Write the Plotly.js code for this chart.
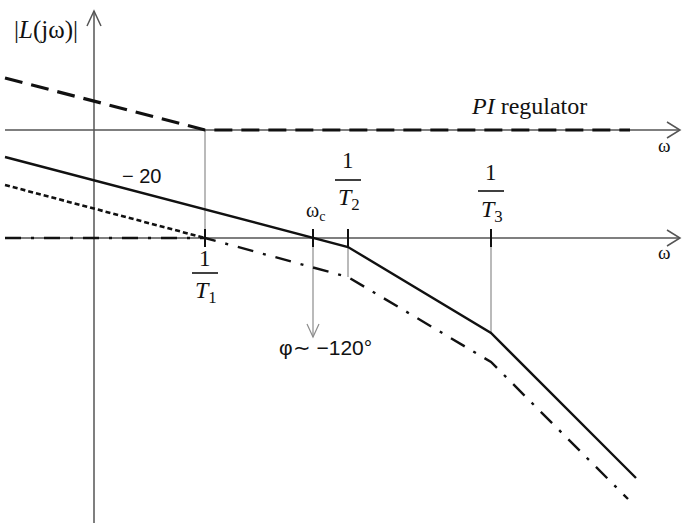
<!DOCTYPE html>
<html>
<head>
<meta charset="utf-8">
<script src="https://cdn.plot.ly/plotly-3.0.1.min.js"></script>
<style>html,body{margin:0;padding:0;background:#fff;}#chart{width:682px;height:523px;}</style>
</head>
<body>
<div id="chart"></div>
<script>
// Schematic Bode asymptotes (x: log-frequency units, y: magnitude units, drawn in figure coordinates)
const piX = [5, 205, 630];
const piY = [78, 130, 130];
const plantX = [5, 348, 491, 636];
const plantY = [157, 247, 333, 478];
const dottedX = [5, 205];
const dottedY = [185, 238];
const dashDotX = [5, 205, 348, 491, 628];
const dashDotY = [238, 238, 277, 362, 499];
const breakNames = ["1", "2", "3"];
const breakX = [205, 348, 491];
const crossX = 313;

const upperAxisY = 130, lowerAxisY = 238, yAxisX = 94;
const serif = "Liberation Serif, Times New Roman, serif";
const sans = "Liberation Sans, Arial, sans-serif";

const traces = [
  {x: piX, y: piY, mode: "lines", line: {color: "#111", width: 3.2, dash: "18px,9px"}},
  {x: plantX, y: plantY, mode: "lines", line: {color: "#111", width: 2.4}},
  {x: dottedX, y: dottedY, mode: "lines", line: {color: "#111", width: 2.6, dash: "5px,3px"}},
  {x: dashDotX, y: dashDotY, mode: "lines", line: {color: "#111", width: 2.4, dash: "16px,10px,3px,10px"}}
];

const grey = "#8c8c8c";
const axisCol = "#555";
const shapes = [];
function line(x0, y0, x1, y1, color, width) {
  shapes.push({type: "line", xref: "x", yref: "y", x0, y0, x1, y1, line: {color, width}, layer: "below"});
}
function path(d, color, width) {
  shapes.push({type: "path", xref: "x", yref: "y", path: d, line: {color, width}, layer: "below"});
}
// axes
line(yAxisX, 523, yAxisX, 11, axisCol, 1.5);
path(`M ${yAxisX-7},${26} L ${yAxisX},${11} L ${yAxisX+7},${26}`, axisCol, 1.5);
[upperAxisY, lowerAxisY].forEach(y => {
  line(5, y, 680, y, axisCol, 1.5);
  path(`M 667,${y-8} L 680,${y} L 667,${y+8}`, axisCol, 1.5);
});
// grey guide lines
line(breakX[0], upperAxisY, breakX[0], lowerAxisY, grey, 1.2);
line(breakX[1], lowerAxisY, breakX[1], dashDotY[2], grey, 1.2);
line(breakX[2], lowerAxisY, breakX[2], plantY[2], grey, 1.2);
line(crossX, lowerAxisY, crossX, 337, grey, 1.2);
path(`M ${crossX-6},${324} L ${crossX},${337} L ${crossX+6},${324}`, grey, 1.2);
// tick marks
[breakX[0], crossX, breakX[1], breakX[2]].forEach(x => line(x, lowerAxisY - 9, x, lowerAxisY + 9, "#111", 2));

const annotations = [];
function txt(x, y, text, size, family, extra) {
  annotations.push(Object.assign({x, y, xref: "x", yref: "y", text, showarrow: false,
    font: {size, family, color: "#111"}, xanchor: "center", yanchor: "middle"}, extra || {}));
}
txt(46, 30, "|<i>L</i>(jω)|", 25, serif);
txt(529, 106, "<i>PI</i> regulator", 24, serif);
txt(664, 145, "ω", 19, serif);
txt(664, 252, "ω", 19, serif);
txt(141, 176, "− 20", 20, sans);
txt(315, 211, "ω<sub>c</sub>", 20, serif);
txt(325, 347, "φ∼ −120°", 21, sans);
// fractions 1/T_i
const fracY = [[258, 273, 292], [160, 180, 199], [172, 191, 211]];
breakX.forEach((x, i) => {
  const [yn, yb, yd] = fracY[i];
  txt(x, yn, "1", 23, serif);
  line(x - 13, yb, x + 13, yb, "#111", 1.6);
  txt(x + 1, yd, "<i>T</i><sub>" + breakNames[i] + "</sub>", 24, serif);
});

const layout = {
  width: 682, height: 523,
  margin: {l: 0, r: 0, t: 0, b: 0},
  paper_bgcolor: "#fff", plot_bgcolor: "#fff",
  showlegend: false,
  xaxis: {range: [0, 682], visible: false, fixedrange: true},
  yaxis: {range: [523, 0], visible: false, fixedrange: true},
  shapes, annotations
};
Plotly.newPlot("chart", traces, layout, {displayModeBar: false, staticPlot: true});
</script>
</body>
</html>
